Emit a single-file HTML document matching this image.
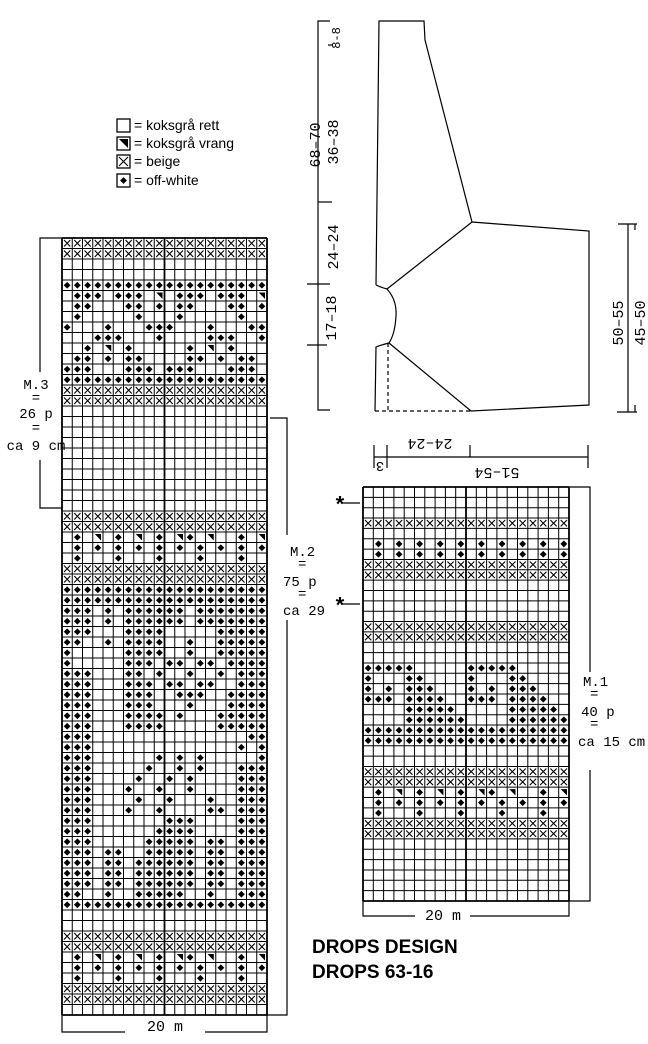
<!DOCTYPE html>
<html><head><meta charset="utf-8"><style>
html,body{margin:0;padding:0;background:#fff}
svg{display:block}
.m{font-family:"Liberation Mono",monospace;font-size:14px}
.s{font-family:"Liberation Sans",sans-serif}
</style></head><body>
<svg id="sv" width="648" height="1044" viewBox="0 0 648 1044" xmlns="http://www.w3.org/2000/svg">
<g fill="none" stroke="#000" stroke-width="1.2">
<polyline points="376,285 379,21 424,21 425,40 472,222 589,231 589,405 471,411 389,343"/>
<path d="M376,285 Q380,287 387,289 Q397,300 396,316 Q395,334 389,343 Q381,345 376,347 L375,411"/>
<line x1="387" y1="289" x2="472" y2="222"/>
<path d="M388,343 L388,411 M375,411 L471,411" stroke-dasharray="4,3"/>
<polyline points="330,21 318,21 318,410 330,410"/>
<line x1="318" y1="202" x2="332" y2="202"/><line x1="307" y1="284" x2="330" y2="284"/><line x1="307" y1="345" x2="327" y2="345"/>
<line x1="328" y1="45" x2="333" y2="45"/>
<line x1="628" y1="224" x2="628" y2="412"/><line x1="618" y1="224" x2="637" y2="224"/><line x1="617" y1="412" x2="637" y2="412"/>
<line x1="635" y1="405" x2="635" y2="412"/><line x1="635" y1="224" x2="635" y2="230"/>
<line x1="374" y1="457" x2="588" y2="457"/>
<line x1="374" y1="445" x2="374" y2="468"/><line x1="387" y1="445" x2="387" y2="468"/><line x1="470" y1="445" x2="470" y2="457"/><line x1="588" y1="445" x2="588" y2="468"/>
<polyline points="62,238 40,238 40,372"/><polyline points="40,460 40,508 62,508"/>
<polyline points="270,418 287,418 287,535"/><polyline points="287,620 287,1015 267,1015"/>
<polyline points="569,487 590,487 590,672"/><polyline points="590,770 590,901 569,901"/>
<polyline points="62,1015 62,1032 125,1032"/><polyline points="205,1032 267,1032 267,1015"/>
<polyline points="363,901 363,916 415,916"/><polyline points="470,916 569,916 569,901"/>
<line x1="342" y1="503" x2="360" y2="503"/><line x1="342" y1="604" x2="360" y2="604"/>
</g>
<g class="m" fill="#000">
<text transform="translate(320,145) rotate(-90)" text-anchor="middle" font-size="15">68–70</text>
<text transform="translate(338,142) rotate(-90)" text-anchor="middle" font-size="15">36–38</text>
<text transform="translate(338,247) rotate(-90)" text-anchor="middle" font-size="15">24–24</text>
<text transform="translate(336,318) rotate(-90)" text-anchor="middle" font-size="15">17–18</text>
<text transform="translate(340,38) rotate(-90)" text-anchor="middle" font-size="12">8-8</text>
<text transform="translate(623,323) rotate(-90)" text-anchor="middle" font-size="15">50–55</text>
<text transform="translate(645,323) rotate(-90)" text-anchor="middle" font-size="15">45–50</text>
<text transform="translate(430,439) rotate(180)" text-anchor="middle" font-size="15">24–24</text>
<text transform="translate(380,462) rotate(180)" text-anchor="middle">3</text>
<text transform="translate(497,468) rotate(180)" text-anchor="middle" font-size="15">51–54</text>
<text x="36" y="389" text-anchor="middle">M.3</text>
<text x="36" y="402" text-anchor="middle">=</text>
<text x="36" y="418" text-anchor="middle">26 p</text>
<text x="36" y="432" text-anchor="middle">=</text>
<text x="36" y="450" text-anchor="middle">ca 9 cm</text>
<text x="290" y="556">M.2</text>
<text x="298" y="568">=</text>
<text x="283" y="586">75 p</text>
<text x="298" y="598">=</text>
<text x="283" y="615">ca 29</text>
<text x="583" y="686">M.1</text>
<text x="590" y="698">=</text>
<text x="581" y="716">40 p</text>
<text x="590" y="728">=</text>
<text x="578" y="746">ca 15 cm</text>
<text x="165" y="1031" text-anchor="middle" font-size="15">20 m</text>
<text x="443" y="920" text-anchor="middle" font-size="15">20 m</text>
<text x="340" y="512" font-size="22" text-anchor="middle" font-weight="bold">*</text>
<text x="340" y="613" font-size="22" text-anchor="middle" font-weight="bold">*</text>
</g>
<g class="s" fill="#000" font-size="14">
<text x="134" y="130">= koksgrå rett</text>
<text x="134" y="148">= koksgrå vrang</text>
<text x="134" y="166">= beige</text>
<text x="134" y="185">= off-white</text>
<text x="312" y="953" font-size="19" font-weight="bold">DROPS DESIGN</text>
<text x="312" y="978" font-size="19" font-weight="bold">DROPS 63-16</text>
</g>
<g id="grids"></g>
</svg>
<script>
const NS="http://www.w3.org/2000/svg";
const g=document.getElementById('grids');
function el(t,a){const e=document.createElementNS(NS,t);for(const k in a)e.setAttribute(k,a[k]);g.appendChild(e);return e;}
function sym(c,x,y,w,h){
 if(c==='x'){el('path',{d:`M${x+2},${y+2}L${x+w-2},${y+h-2}M${x+w-2},${y+2}L${x+2},${y+h-2}`,stroke:'#000','stroke-width':1.1,fill:'none'});}
 else if(c==='d'){const cx=x+w/2,cy=y+h/2,r=3.4;el('path',{d:`M${cx},${cy-r}L${cx+r},${cy}L${cx},${cy+r}L${cx-r},${cy}Z`,fill:'#000'});}
 else if(c==='v'){el('path',{d:`M${x+2},${y+2}L${x+w-2},${y+2}L${x+w-2},${y+h-2}Z`,fill:'#000'});}
}
function grid(x0,y0,x1,y1,rows){
 const n=rows.length,cw=(x1-x0)/20,rh=(y1-y0)/n;
 rows.forEach((r,i)=>{for(let j=0;j<20;j++)sym(r[j]||'.',x0+j*cw,y0+i*rh,cw,rh);});
 for(let j=0;j<=20;j++)el('line',{x1:x0+j*cw,y1:y0,x2:x0+j*cw,y2:y1,stroke:'#000','stroke-width':(j==10||j==0||j==20)?1.8:1});
 for(let i=0;i<=n;i++)el('line',{x1:x0,y1:y0+i*rh,x2:x1,y2:y0+i*rh,stroke:'#000','stroke-width':(i==0||i==n)?1.8:1});
}
const X='xxxxxxxxxxxxxxxxxxxx',B='....................',D='dddddddddddddddddddd';
const L=[X,X,B,B,D,
'.ddd.ddd.v.ddd.ddd.v','.dd...dd.d.dd...dd.d','.d.....d...d.....d..','d...d...ddd...d...dd',
'...ddd...d....ddd..d','..d.v.d.....d.v.d...','.dd.d.dd....dd.d.dd.','ddd...ddd.ddd...ddd.',D,X,X,
B,B,B,B,B,B,B,B,B,B,X,X,
'.d.v.d.v.d.vd.v..d.v','.d.d.d.d.d.d.d.d.d.d','.d...d...d...d...d..',X,X,
D,D,'ddd.d.dddddd.ddddddd','ddd.d.dddddd.ddddddd','ddd...dddd.....ddddd','dd..d.dddd..d..ddddd',
'd.....dddd..d..ddddd','d.....ddd.dd.dd.dddd','ddd...dd.d..d..d.ddd','ddd...ddd.dd.dd..ddd',
'ddd...ddd..ddd..dddd','ddd...ddd...d...dddd','ddd...dddd.d...ddddd','ddd...dddd.....ddddd',
'ddd...............dd','ddd..............d.d','ddd......d.d.d.....d','ddd.....d..d.d...ddd',
'ddd....d..d.d....ddd','ddd...d..d..d....ddd','ddd....d..d...d..ddd','ddd...d..d....dd.ddd',
'ddd.......ddd....ddd','ddd......dddd....ddd','ddd.....ddddd.dd.ddd','ddd.dd..ddddd.dd.ddd',
'ddd.dd.dddddd.dd.ddd','ddd.dd.dddddd.dd.ddd','ddd.dd.dddddd.dd.ddd','dd..d..ddddd..d..ddd',D,
B,B,X,X,'.d.v.d.v.d.vd.v..d.v','.d.d.d.d.d.d.d.d.d.d','.d...d...d...d...d..',X,X,B];
grid(62,238,267,1015,L);
const R=[B,B,B,X,B,'.d.d.d.d.d.d.d.d.d.d','.d.d.d.d.d.d.d.d.d.d',X,X,B,B,B,B,X,X,B,B,
'ddddd.....ddddd.....','d...dd....d...dd....','d.d.ddd...d.d.ddd...','ddd.dddd..ddd.dddd..',
'....ddddd.....ddddd.','....dddddd....dddddd',D,D,B,B,X,X,
'.d.v.d.v.d.vd.v..d.v','.d.d.d.d.d.d.d.d.d.d','.d...d...d...d...d..',X,X,B,B,B,B,B,B];
grid(363,487,569,901,R);
const ly=[119,137,155,174];
ly.forEach((y,i)=>{el('rect',{x:117,y:y,width:13,height:13,fill:'#fff',stroke:'#000','stroke-width':1.3});sym(['.','v','x','d'][i],117,y,13,13);});
</script>
</body></html>
